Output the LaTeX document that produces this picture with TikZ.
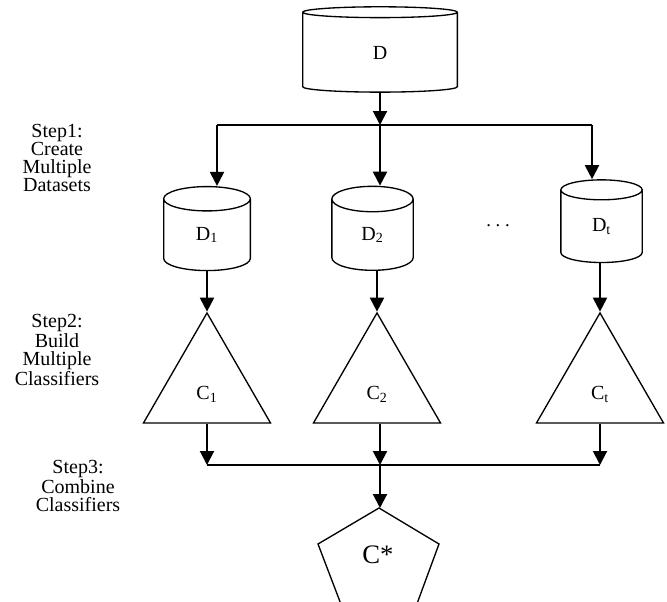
\documentclass[tikz,border=0pt]{standalone}
\usepackage{fontspec}
\setmainfont{Liberation Serif}
\usetikzlibrary{shapes.geometric,arrows.meta}

\tikzset{
  dbase/.style={cylinder, shape border rotate=90, draw, line width=1pt, inner sep=0pt},
  clf/.style={regular polygon, regular polygon sides=3, draw, line width=1pt,
    minimum size=110pt, inner sep=0pt, text height=22pt},
  feed/.style={line width=1.5pt, -{Triangle[length=10.5pt,width=10.5pt]}},
  bus/.style={line width=1pt},
  steptxt/.style={align=center, font=\fontsize{15pt}{13.6pt}\selectfont}
}

\begin{document}
\begin{tikzpicture}[x=0.75pt,y=-0.75pt,font=\fontsize{15pt}{17.25pt}\selectfont]
	\useasboundingbox (0,0) rectangle (667,601);
	\clip (0,0) rectangle (667,601);
	% data sets
	\node[dbase, minimum width=116pt, minimum height=64pt, aspect=0.75] (D) at (380,52.5) {D};
	\node[dbase, minimum width=65pt, minimum height=63pt, aspect=1.1] (D1) at (207,235) {D\textsubscript{1}};
	\node[dbase, minimum width=61pt, minimum height=63pt, aspect=1.15] (D2) at (372.5,235) {D\textsubscript{2}};
	\node[dbase, minimum width=61pt, minimum height=62pt, aspect=1.05] (Dt) at (601.5,226.5) {D\textsubscript{t}};
	\node[font=\fontsize{14pt}{14pt}\selectfont] (dots) at (498,226) {.~.~.};
	% classifiers
	\node[clf] (C1) at (207,386.3) {C\textsubscript{1}};
	\node[clf] (C2) at (377,386.3) {C\textsubscript{2}};
	\node[clf] (Ct) at (600,386.3) {C\textsubscript{t}};
	% combined classifier
	\coordinate (ctop) at (379,508);
	\draw[line width=1pt] (ctop) -- (439,544) -- (411,620) -- (347,620) -- (318,544) -- cycle;
	\node[font=\fontsize{20pt}{20pt}\selectfont] (Cs) at (378,555) {C*};
	% step labels
	\node[steptxt] (s1) at (57,158) {Step1:\\Create\\Multiple\\Datasets};
	\node[steptxt] (s2) at (57,350) {Step2:\\Build\\Multiple\\Classifiers};
	\node[steptxt] (s3) at (78,486) {Step3:\\Combine\\Classifiers};
	% top bus
	\coordinate (hub) at (380,125);
	\coordinate (t1) at (217,125);
	\coordinate (tt) at (592,125);
	\draw[feed] (D.south) -- (hub);
	\draw[bus] (t1) -- (tt);
	\draw[feed] (t1) -- (t1 |- D1.north);
	\draw[feed] (hub) -- (hub |- D2.north);
	\draw[feed] (tt) -- (tt |- Dt.north);
	\draw[feed] (D1.south) -- (C1.corner 1);
	\draw[feed] (C2.corner 1 |- D2.south) -- (C2.corner 1);
	\draw[feed] (Ct.corner 1 |- Dt.south) -- (Ct.corner 1);
	% bottom bus
	\coordinate (jc) at (380,465);
	\draw[feed] (C1.south) -- (C1.south |- jc);
	\draw[feed] (jc |- C2.south) -- (jc);
	\draw[feed] (Ct.south) -- (Ct.south |- jc);
	\draw[bus] (C1.south |- jc) -- (Ct.south |- jc);
	\draw[feed] (jc) -- (jc |- ctop);
\end{tikzpicture}
\end{document}
